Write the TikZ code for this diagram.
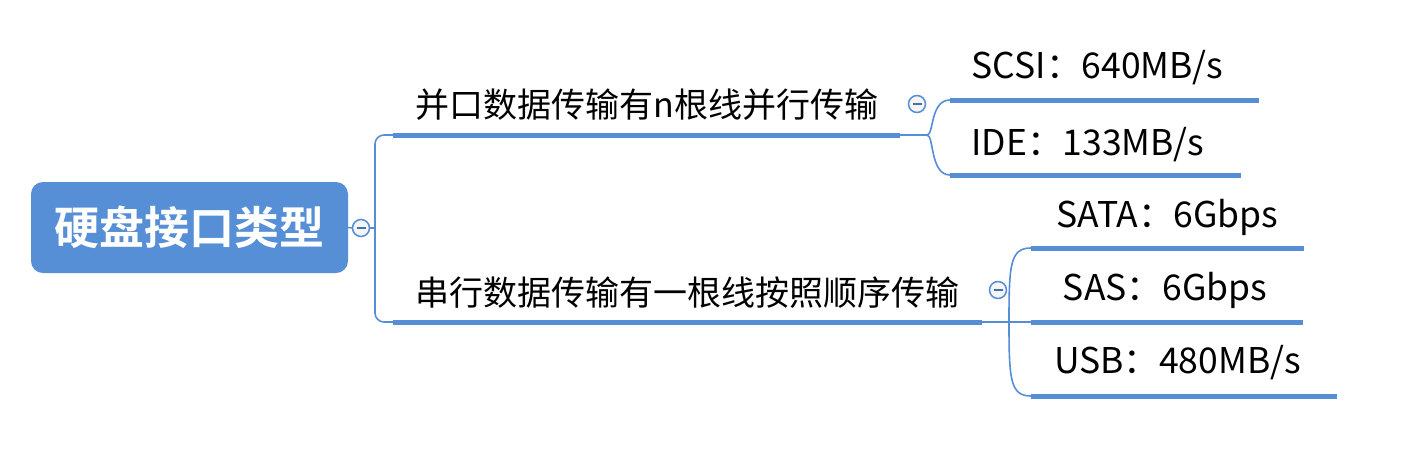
\documentclass[tikz,border=0pt]{standalone}
\usepackage{fontspec}
\setmainfont{Noto Sans CJK SC}
\newfontfamily\cjkb{Noto Sans CJK SC Bold}
\definecolor{mmblue}{RGB}{85,142,213}
\definecolor{rootblue}{RGB}{86,143,214}
\tikzset{
  rootbox/.style={fill=rootblue, rounded corners=12pt, minimum width=317pt, minimum height=91pt, inner sep=0pt, text=white, font=\cjkb\fontsize{45}{45}\selectfont},
  branchtext/.style={inner sep=0pt, font=\fontsize{34}{34}\selectfont},
  leaftext/.style={inner sep=0pt, font=\fontsize{35.5}{35.5}\selectfont},
  thin/.style={draw=mmblue, line width=1.6pt},
  thick/.style={draw=mmblue, line width=5pt},
  collapse/.style={circle, draw=mmblue, fill=gray!8, line width=1.5pt, minimum size=17pt, inner sep=0pt},
}
\newcommand{\minussign}[1]{\draw[mmblue!80!black, line width=1.5pt] ([xshift=-4.5pt]#1.center) -- ([xshift=4.5pt]#1.center);}
\begin{document}
\begin{tikzpicture}[x=1pt,y=-1pt]
\useasboundingbox (0,0) rectangle (1401,467);
% root
\node[rootbox] (root) at (189.5,227.5) {硬盘接口类型};
\node[collapse] (c0) at (361,228) {};
\minussign{c0}
\coordinate (j0) at (375,228);
\coordinate (u1s) at (393,135);
\coordinate (u1e) at (900,135);
\coordinate (u2s) at (393,322);
\coordinate (u2e) at (982,322);
\draw[thin] (root.east) -- (c0.west);
\draw[thin] (c0.east) -- (j0);
\draw[thin, rounded corners=9pt] (j0) |- (u1s);
\draw[thin, rounded corners=9pt] (j0) |- (u2s);
\draw[thick] (u1s) -- (u1e);
\draw[thick] (u2s) -- (u2e);
\node[branchtext] (b1) at (647,105) {并口数据传输有n根线并行传输};
\node[branchtext] (b2) at (687.5,293) {串行数据传输有一根线按照顺序传输};
% top branch children
\node[collapse] (c1) at (917,104) {};
\minussign{c1}
\coordinate (j1) at (927,135);
\coordinate (l1s) at (950,100);
\coordinate (l1e) at (1259,100);
\coordinate (l2s) at (950,175);
\coordinate (l2e) at (1241,175);
\draw[thin] (u1e) -- (j1);
\draw[thin] (j1) .. controls (934,135) and (930,100) .. (l1s);
\draw[thin] (j1) .. controls (934,135) and (930,175) .. (l2s);
\draw[thick] (l1s) -- (l1e);
\draw[thick] (l2s) -- (l2e);
\node[leaftext] (s1) at (1097.5,68) {SCSI：640MB/s};
\node[leaftext] (s2) at (1088,145) {IDE：133MB/s};
% bottom branch children
\node[collapse] (c2) at (998,290) {};
\minussign{c2}
\coordinate (j2) at (1009,322);
\coordinate (l3s) at (1031,248);
\coordinate (l3e) at (1304,248);
\coordinate (l4s) at (1031,322);
\coordinate (l4e) at (1303,322);
\coordinate (l5s) at (1031,396);
\coordinate (l5e) at (1337,396);
\draw[thin] (u2e) -- (l4s);
\draw[thin] (j2) .. controls (1009,265) and (1010,248) .. (l3s);
\draw[thin] (j2) .. controls (1009,379) and (1010,396) .. (l5s);
\draw[thick] (l3s) -- (l3e);
\draw[thick] (l4s) -- (l4e);
\draw[thick] (l5s) -- (l5e);
\node[leaftext] (s3) at (1167.5,217) {SATA：6Gbps};
\node[leaftext] (s4) at (1165,290) {SAS：6Gbps};
\node[leaftext] (s5) at (1177.5,363) {USB：480MB/s};
\end{tikzpicture}
\end{document}
